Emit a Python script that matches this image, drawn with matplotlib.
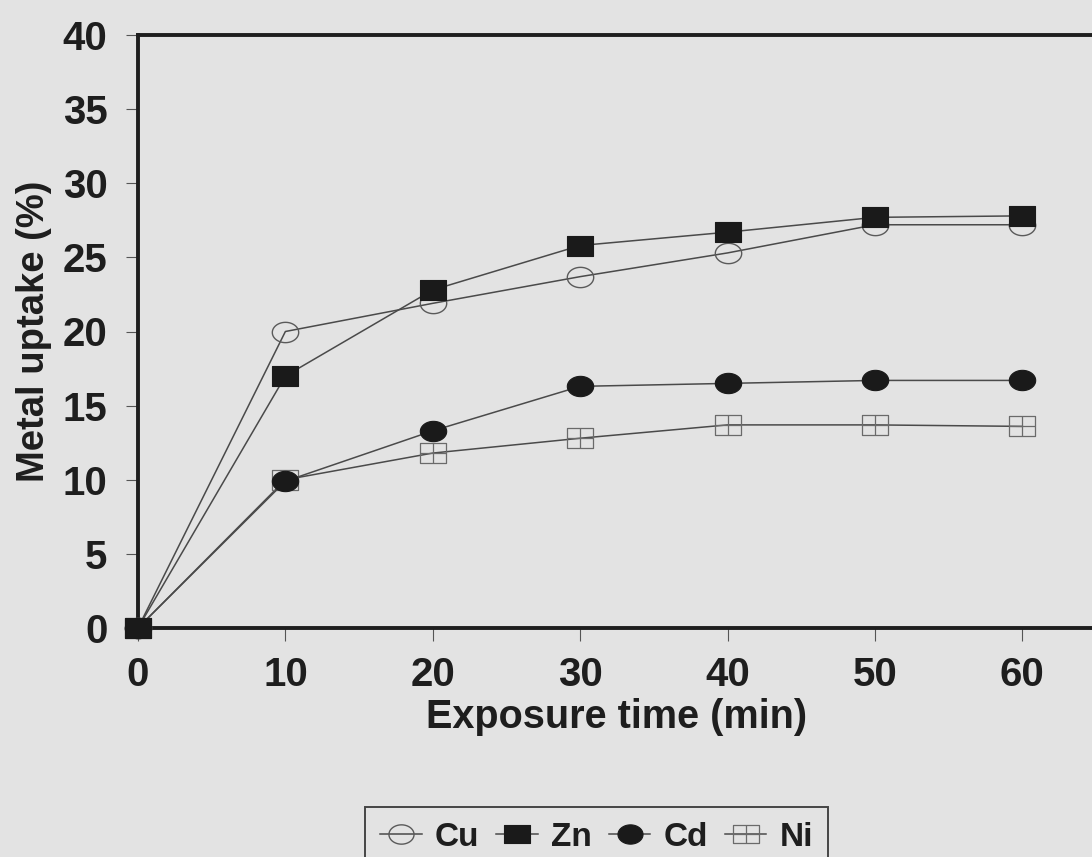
import numpy as np
import matplotlib
matplotlib.use('Agg')
import matplotlib.pyplot as plt
from matplotlib.path import Path

# exposure time (min) and metal uptake (%) for each metal
time_min = [0, 10, 20, 30, 40, 50, 60]
cu_uptake = [0, 20.0, 21.9, 23.7, 25.3, 27.2, 27.2]
zn_uptake = [0, 17.0, 22.8, 25.8, 26.7, 27.7, 27.8]
cd_uptake = [0, 9.9, 13.3, 16.3, 16.5, 16.7, 16.7]
ni_uptake = [0, 10.0, 11.8, 12.8, 13.7, 13.7, 13.6]

metal_names = ['Cu', 'Zn', 'Cd', 'Ni']
x_ticks = [0, 10, 20, 30, 40, 50, 60]
y_ticks = [0, 5, 10, 15, 20, 25, 30, 35, 40]


def ellipse_marker(aspect=0.77):
    t = np.linspace(0, 2 * np.pi, 64)
    verts = np.column_stack([np.cos(t), aspect * np.sin(t)])
    return Path(verts, closed=True)


def rect_marker(aspect=0.73, cross=False):
    a = aspect
    verts = [(-1, -a), (1, -a), (1, a), (-1, a), (-1, -a)]
    codes = [Path.MOVETO, Path.LINETO, Path.LINETO, Path.LINETO, Path.CLOSEPOLY]
    if cross:
        verts += [(0, -a), (0, a), (-1, 0), (1, 0)]
        codes += [Path.MOVETO, Path.LINETO, Path.MOVETO, Path.LINETO]
    return Path(verts, codes)


bg = '#e3e3e3'
ink = '#1e1e1e'
line_col = '#4a4a4a'

plt.rcParams['font.family'] = ['Liberation Sans', 'DejaVu Sans']
plt.rcParams['font.weight'] = 'bold'

fig = plt.figure(figsize=(10.92, 8.57), dpi=100, facecolor=bg)
W, H = 1092, 857
ax = fig.add_axes([138 / W, 1 - 628 / H, (1096 - 138) / W, (628 - 35) / H])
ax.set_facecolor(bg)

styles = {
    'Cu': dict(marker=ellipse_marker(), mfc='none', mec='#5a5a5a', mew=1.0),
    'Zn': dict(marker=rect_marker(), mfc='#1a1a1a', mec='#1a1a1a', mew=0.8),
    'Cd': dict(marker=ellipse_marker(), mfc='#1a1a1a', mec='#1a1a1a', mew=0.8),
    'Ni': dict(marker=rect_marker(0.75, cross=True), mfc='none', mec='#6a6a6a', mew=0.9),
}
series = {'Cu': cu_uptake, 'Zn': zn_uptake, 'Cd': cd_uptake, 'Ni': ni_uptake}
zorders = {'Cu': 3, 'Zn': 5, 'Cd': 4, 'Ni': 3}

handles = []
for name in metal_names:
    h, = ax.plot(time_min, series[name], color=line_col, lw=1.1, ms=19,
                 label=name, zorder=zorders[name], clip_on=False, **styles[name])
    handles.append(h)

ax.set_xlim(0, 65)
ax.set_ylim(0, 40)
ax.set_xticks(x_ticks)
ax.set_yticks(y_ticks)
ax.tick_params(axis='both', direction='out', length=9, width=0.8, color='#555555',
               labelsize=29, labelcolor=ink)
ax.tick_params(axis='y', pad=13)
ax.tick_params(axis='x', pad=11)

for side in ['left', 'top', 'bottom']:
    ax.spines[side].set_linewidth(2.8)
    ax.spines[side].set_color(ink)
ax.spines['right'].set_visible(False)

ax.set_xlabel('Exposure time (min)', fontsize=28.5, fontweight='bold', color=ink)
ax.set_ylabel('Metal uptake (%)', fontsize=27.5, fontweight='bold', color=ink)
ax.xaxis.set_label_coords(0.5, -0.118)
ax.yaxis.set_label_coords(-0.09, 0.5)

leg = fig.legend(handles=handles, labels=metal_names, ncol=4,
                 loc='upper left', bbox_to_anchor=(365 / W, 1 - 807 / H),
                 borderaxespad=0, frameon=True, fancybox=False,
                 fontsize=24, handlelength=1.25, handletextpad=0.4,
                 columnspacing=0.5, borderpad=0.45, markerscale=0.95)
leg.get_frame().set_facecolor(bg)
leg.get_frame().set_edgecolor(ink)
leg.get_frame().set_linewidth(1.4)
for t in leg.get_texts():
    t.set_color(ink)
    t.set_fontweight('bold')

fig.savefig('out.png', dpi=100, facecolor=bg)
